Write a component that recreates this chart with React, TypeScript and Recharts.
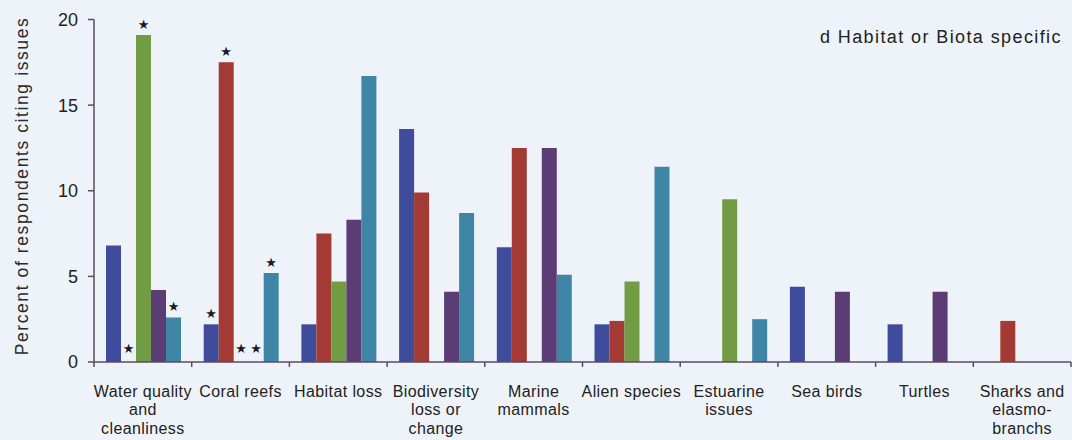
import React from "react";
import { BarChart, Bar, XAxis, YAxis, LabelList } from "recharts";

const categories = [
  "Water quality\nand\ncleanliness",
  "Coral reefs",
  "Habitat loss",
  "Biodiversity\nloss or\nchange",
  "Marine\nmammals",
  "Alien species",
  "Estuarine\nissues",
  "Sea birds",
  "Turtles",
  "Sharks and\nelasmo-\nbranchs",
];

const blueValues = [6.8, 2.2, 2.2, 13.6, 6.7, 2.2, 0, 4.4, 2.2, 0];
const redValues = [0, 17.5, 7.5, 9.9, 12.5, 2.4, 0, 0, 0, 2.4];
const greenValues = [19.1, 0, 4.7, 0, 0, 4.7, 9.5, 0, 0, 0];
const purpleValues = [4.2, 0, 8.3, 4.1, 12.5, 0, 0, 4.1, 4.1, 0];
const tealValues = [2.6, 5.2, 16.7, 8.7, 5.1, 11.4, 2.5, 0, 0, 0];

// significance markers (1 = star above the bar)
const blueStars = [0, 1, 0, 0, 0, 0, 0, 0, 0, 0];
const redStars = [1, 1, 0, 0, 0, 0, 0, 0, 0, 0];
const greenStars = [1, 1, 0, 0, 0, 0, 0, 0, 0, 0];
const purpleStars = [0, 1, 0, 0, 0, 0, 0, 0, 0, 0];
const tealStars = [1, 1, 0, 0, 0, 0, 0, 0, 0, 0];

const yTicks = [0, 5, 10, 15, 20];

const data = categories.map((name, i) => ({
  name,
  blue: blueValues[i],
  red: redValues[i],
  green: greenValues[i],
  purple: purpleValues[i],
  teal: tealValues[i],
}));

const axisColor = "#5a4b5e";
const textColor = "#222";
const font = "'Liberation Sans', Arial, sans-serif";

// label value is the category name, so zero bars can't shift the index
const starLabel = (flags: number[]) => (props: any) => {
  const vb = props.viewBox ?? props;
  const idx = categories.indexOf(String(props.value));
  if (idx < 0 || !flags[idx]) return null;
  const cx = Number(vb.x) + Number(vb.width) / 2;
  const h = Math.abs(Number(vb.height));
  const top = Math.min(Number(vb.y), Number(vb.y) + Number(vb.height));
  return (
    <text
      x={cx}
      y={top - (h < 1 ? 9 : 6)}
      textAnchor="middle"
      fontSize={13}
      fontFamily="'DejaVu Sans', sans-serif"
      fill="#1c1a26"
    >
      ★
    </text>
  );
};

const nameOf = (d: any) => d.name;

const CategoryTick = (props: any) => {
  const { x, y, payload, index } = props;
  const half = payload?.offset || 48.85;
  const lines = String(payload.value).split("\n");
  return (
    <g>
      <line x1={x - half} x2={x - half} y1={y} y2={y + 5} stroke={axisColor} strokeWidth={1.5} />
      {index === categories.length - 1 && (
        <line x1={x + half} x2={x + half} y1={y} y2={y + 5} stroke={axisColor} strokeWidth={1.5} />
      )}
      <text
        x={x}
        y={y}
        textAnchor="middle"
        fontSize={16}
        letterSpacing={0.4}
        fontFamily={font}
        fill={textColor}
      >
        {lines.map((l, i) => (
          <tspan key={i} x={x} dy={i === 0 ? 35 : 18.3}>
            {l}
          </tspan>
        ))}
      </text>
    </g>
  );
};

export default function App() {
  return (
    <div
      style={{
        position: "absolute",
        left: 0,
        top: 0,
        width: 1072,
        height: 440,
        background: "#eef3f9",
        fontFamily: font,
      }}
    >
      <div
        style={{
          position: "absolute",
          left: 820,
          top: 27,
          fontSize: 18,
          letterSpacing: 1.4,
          color: textColor,
          whiteSpace: "nowrap",
        }}
      >
        d Habitat or Biota specific
      </div>
      <div
        style={{
          position: "absolute",
          left: 22,
          top: 186,
          transform: "translate(-50%, -50%) rotate(-90deg)",
          fontSize: 17.5,
          letterSpacing: 1.6,
          color: "#2a2a2a",
          whiteSpace: "nowrap",
        }}
      >
        Percent of respondents citing issues
      </div>
      <BarChart
        width={1072}
        height={440}
        data={data}
        margin={{ top: 19.5, right: 1, bottom: 0, left: 0 }}
        barCategoryGap={12}
        barGap={0}
        style={{ position: "absolute", left: 0, top: 0 }}
      >
        <XAxis
          dataKey="name"
          height={78}
          interval={0}
          tickLine={false}
          tickSize={0}
          tickMargin={0}
          tick={<CategoryTick />}
          stroke={axisColor}
          strokeWidth={1.5}
        />
        <YAxis
          width={94}
          domain={[0, 20]}
          ticks={yTicks}
          tickSize={6}
          tickMargin={10}
          stroke={axisColor}
          strokeWidth={1.5}
          tick={{ fill: textColor, fontSize: 18, fontFamily: font }}
        />
        <Bar dataKey="blue" fill="#3f4c9c" minPointSize={0.01} isAnimationActive={false}>
          <LabelList dataKey={nameOf} content={starLabel(blueStars)} />
        </Bar>
        <Bar dataKey="red" fill="#a33a33" minPointSize={0.01} isAnimationActive={false}>
          <LabelList dataKey={nameOf} content={starLabel(redStars)} />
        </Bar>
        <Bar dataKey="green" fill="#729c43" minPointSize={0.01} isAnimationActive={false}>
          <LabelList dataKey={nameOf} content={starLabel(greenStars)} />
        </Bar>
        <Bar dataKey="purple" fill="#5c3c74" minPointSize={0.01} isAnimationActive={false}>
          <LabelList dataKey={nameOf} content={starLabel(purpleStars)} />
        </Bar>
        <Bar dataKey="teal" fill="#3f86a6" minPointSize={0.01} isAnimationActive={false}>
          <LabelList dataKey={nameOf} content={starLabel(tealStars)} />
        </Bar>
      </BarChart>
    </div>
  );
}
